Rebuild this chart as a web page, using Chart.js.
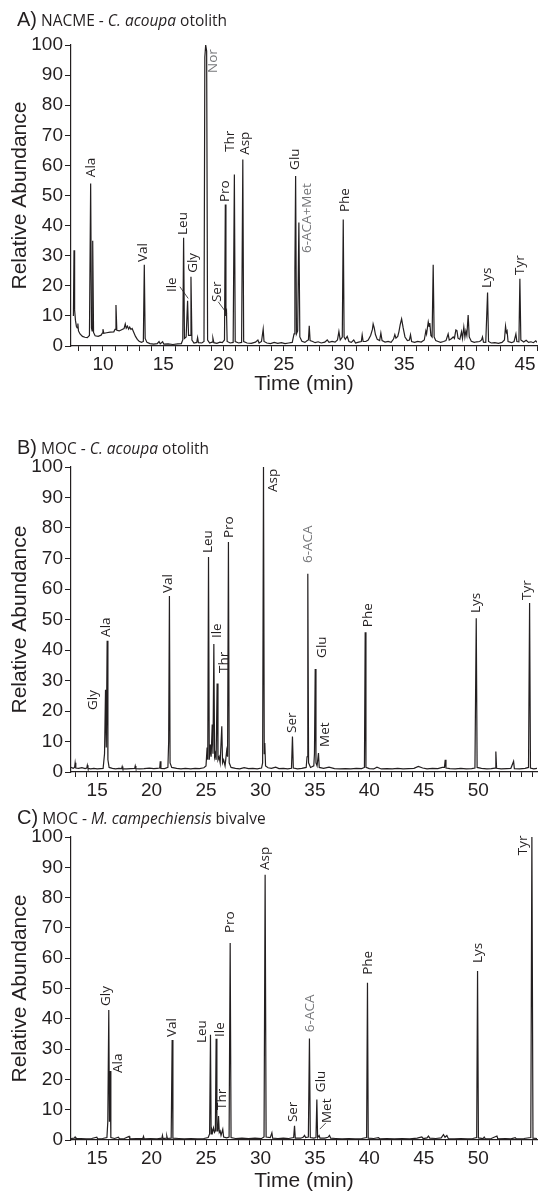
<!DOCTYPE html>
<html><head><meta charset="utf-8">
<script src="https://cdn.jsdelivr.net/npm/chart.js@4.4.1/dist/chart.umd.min.js"></script>
<style>
body{margin:0;background:#fff;width:539px;height:1194px;position:relative;overflow:hidden;}
canvas{position:absolute;left:0;}
.ttl{position:absolute;left:17px;font-family:'Open Sans';font-size:15.5px;color:#231f20;white-space:nowrap;line-height:24px;}
.ttl b{font-family:'Liberation Sans';font-weight:normal;font-size:20px;}
</style></head><body>
<canvas id="cA" width="539" height="400" style="top:0px"></canvas>
<canvas id="cB" width="539" height="400" style="top:405px"></canvas>
<canvas id="cC" width="539" height="389" style="top:805px"></canvas>
<div class="ttl" style="top:7px"><b>A)</b> NACME - <i>C. acoupa</i> otolith</div>
<div class="ttl" style="top:435px"><b>B)</b> MOC - <i>C. acoupa</i> otolith</div>
<div class="ttl" style="top:805px"><b>C)</b> MOC - <i>M. campechiensis</i> bivalve</div>
<script>
// ---------- DATA ----------
const traceA = [[7.55,10],[7.6,31.8],[7.65,12],[7.72,8.5],[7.8,6.5],[7.87,6],[7.92,7.5],[7.97,5],[8.1,4],[8.3,3.2],[8.5,2.9],[8.7,2.8],[8.88,3.5],[8.98,54],[9.05,6],[9.1,5],[9.15,35],[9.22,4.5],[9.35,3.4],[9.6,3.2],[9.85,3.6],[9.95,4.3],[10.0,5.6],[10.07,4.2],[10.3,4.4],[10.6,4.6],[10.9,4.7],[11.0,5.5],[11.08,13.6],[11.15,5.2],[11.35,5],[11.55,5.4],[11.75,5.8],[11.85,7.3],[11.93,5.9],[12.03,6.6],[12.13,5.6],[12.22,6.3],[12.32,5.5],[12.42,5.8],[12.55,4.6],[12.7,3.2],[12.85,2.2],[13.0,1.6],[13.2,1.2],[13.35,1.5],[13.43,27],[13.5,2.5],[13.65,1.2],[13.9,0.8],[14.2,0.6],[14.5,0.8],[14.65,1.5],[14.75,0.7],[14.95,1.4],[15.05,0.6],[15.4,0.7],[15.8,0.5],[16.2,0.7],[16.5,0.8],[16.62,2],[16.69,36],[16.76,2.5],[16.9,3],[17.02,15],[17.1,3.5],[17.22,3.5],[17.3,23],[17.38,2],[17.55,1],[17.78,1.2],[17.85,2.8],[17.92,1.1],[18.2,1],[18.38,1.5],[18.45,96],[18.52,100],[18.6,98],[18.68,2],[18.85,1],[19.05,1.3],[19.12,2.6],[19.2,1.1],[19.45,0.9],[19.7,1.3],[19.9,1.1],[20.08,2],[20.15,47],[20.2,10],[20.25,11],[20.3,1.5],[20.55,1],[20.8,1.2],[20.9,57],[20.97,1.5],[21.25,1],[21.5,1.2],[21.6,62],[21.67,1.5],[21.95,1],[22.3,0.9],[22.65,1.3],[22.85,2],[22.95,1],[23.15,1.5],[23.29,5.6],[23.36,1.5],[23.6,1],[23.9,0.8],[24.2,1.2],[24.5,0.9],[24.8,1.1],[25.1,0.8],[25.4,1],[25.7,1.2],[25.85,4],[25.92,25],[25.98,56.5],[26.05,4],[26.15,5],[26.25,41],[26.33,3],[26.5,1.6],[26.75,1.2],[26.95,1.8],[27.04,2],[27.11,6.7],[27.18,1.8],[27.4,1.5],[27.6,1.1],[27.85,1.4],[28.1,1],[28.4,1.3],[28.6,2],[28.75,1.2],[29.0,1.5],[29.25,1.3],[29.45,2],[29.57,4.8],[29.68,2],[29.85,3],[29.93,42],[30.0,3],[30.1,2.2],[30.26,3.2],[30.4,1.5],[30.6,1.2],[30.8,2],[30.95,1],[31.2,1.3],[31.43,1.5],[31.5,3.7],[31.58,1.5],[31.8,1.5],[32.0,2],[32.2,3.5],[32.35,5.5],[32.41,7.3],[32.5,6],[32.6,3.8],[32.75,2.2],[32.95,1.8],[33.05,4.3],[33.15,1.8],[33.4,1.3],[33.65,1.5],[33.9,1.2],[34.1,2.3],[34.21,3.8],[34.3,2.6],[34.45,3.2],[34.55,4.8],[34.65,7],[34.77,9],[34.9,6],[35.05,3],[35.25,1.8],[35.42,2],[35.51,3.7],[35.6,1.5],[35.85,1.2],[36.1,1.5],[36.4,1.3],[36.65,2],[36.78,5],[36.84,4],[36.98,8],[37.05,6.5],[37.11,7.6],[37.2,3.5],[37.3,3],[37.39,27],[37.47,3],[37.6,1.8],[37.8,1.5],[38.0,1.2],[38.25,1.5],[38.45,1.8],[38.63,4],[38.72,2],[38.9,2.4],[39.05,3],[39.15,2.5],[39.27,5.3],[39.36,5.1],[39.45,2.6],[39.6,2.2],[39.74,4.7],[39.82,2.5],[39.93,6.3],[40.02,3],[40.1,5],[40.18,3.5],[40.29,10.3],[40.38,3],[40.55,1.6],[40.8,1.2],[41.0,1.4],[41.25,1.5],[41.4,2],[41.48,3],[41.56,1.3],[41.75,1.2],[41.9,17.8],[41.98,1.5],[42.2,1],[42.5,1.1],[42.8,0.9],[43.1,1.2],[43.3,2],[43.39,6.6],[43.46,4.5],[43.52,5],[43.6,1.5],[43.9,1.1],[44.1,1.5],[44.25,4],[44.33,1.5],[44.5,1.4],[44.58,22.3],[44.66,2],[44.9,1.3],[45.1,1.9],[45.3,1.2],[45.5,1.4],[45.7,1.1],[45.9,1.7],[46.0,1.2]];

const traceB = [[12.6,1.5],[12.8,1.2],[12.93,1.5],[12.98,3],[13.04,1.3],[13.3,1.2],[13.6,1.4],[13.9,1.1],[14.05,1.3],[14.1,2.2],[14.16,1.2],[14.4,1.0],[14.7,1.2],[15.0,1.0],[15.3,1.1],[15.55,1.2],[15.68,6],[15.77,27],[15.84,8],[15.92,43],[15.99,4],[16.1,1.5],[16.4,1.2],[16.7,1],[17.0,1.2],[17.25,1.1],[17.3,1.8],[17.36,1],[17.7,1],[18.1,1.1],[18.45,1.2],[18.5,2],[18.56,1.1],[18.9,1],[19.3,1.1],[19.8,1.3],[20.2,1.1],[20.5,1.2],[20.75,1.3],[20.8,3.5],[20.86,1.2],[21.2,1.1],[21.5,1.5],[21.57,10],[21.64,57.7],[21.7,3],[21.85,1.5],[22.3,1.2],[22.7,1],[23.1,1.2],[23.6,1],[24.0,1.2],[24.4,1.1],[24.8,1.4],[25.0,2],[25.1,8],[25.16,4],[25.23,70.5],[25.3,4],[25.4,9],[25.47,5],[25.57,15.6],[25.64,6],[25.72,42],[25.79,5],[25.85,6],[25.93,4],[26.02,29],[26.1,4],[26.2,5],[26.3,3],[26.45,15],[26.52,3],[26.62,4],[26.75,2],[26.9,7],[26.98,5],[27.06,75.4],[27.13,3],[27.3,1.5],[27.7,1.2],[28.1,1],[28.5,1.4],[28.9,1.1],[29.3,1.2],[29.7,1],[30.1,1.3],[30.2,3],[30.28,100],[30.35,6],[30.4,9.5],[30.47,2],[30.7,1.4],[31.0,1.2],[31.4,1.6],[31.7,1.1],[32.1,1.2],[32.5,1],[32.85,1.2],[32.94,11.6],[33.02,1.3],[33.4,1],[33.8,1.2],[34.2,1.5],[34.28,5],[34.35,65],[34.42,3],[34.6,1.5],[34.9,2],[34.96,6],[35.03,33.8],[35.1,3],[35.2,2],[35.33,6.2],[35.4,1.5],[35.8,1.2],[36.3,1.6],[36.8,1.1],[37.3,1],[37.8,1.1],[38.3,1],[38.8,1.2],[39.3,1.1],[39.55,1.5],[39.62,45.8],[39.69,1.5],[40.0,1.1],[40.4,1],[40.7,1.6],[41.1,1],[41.6,1.1],[42.1,1],[42.6,1.2],[43.1,1],[43.6,1.1],[44.1,1.2],[44.5,1.8],[44.9,1.3],[45.3,1],[45.8,1.2],[46.3,1.1],[46.7,1.5],[46.9,1.5],[46.97,4],[47.04,1.3],[47.4,1.1],[47.9,1],[48.4,1.2],[48.9,1],[49.4,1.1],[49.7,1.3],[49.82,50.4],[49.9,1.5],[50.3,1.2],[50.8,1],[51.2,1.1],[51.55,1.3],[51.62,6.7],[51.69,1.2],[52.1,1],[52.6,1.1],[53.0,1.2],[53.25,3.5],[53.32,1.1],[53.8,1],[54.3,1.2],[54.62,1.5],[54.72,55.4],[54.8,1.3],[55.1,1],[55.4,1.2]];

const traceC = [[12.6,0.5],[12.9,0.6],[12.98,1],[13.05,0.5],[13.5,0.5],[14.0,0.4],[14.5,0.5],[14.97,0.9],[15.05,0.4],[15.5,0.5],[15.9,0.8],[15.98,6],[16.07,42.9],[16.13,6],[16.19,22.8],[16.26,0.8],[16.6,0.5],[16.96,0.9],[17.05,0.4],[17.5,0.5],[17.94,1.2],[18.0,0.4],[18.6,0.5],[19.2,0.5],[19.26,1.2],[19.32,0.4],[19.9,0.5],[20.5,0.4],[20.95,0.6],[21.0,1.5],[21.05,0.5],[21.35,0.6],[21.4,1.3],[21.45,0.5],[21.8,0.6],[21.89,33],[21.96,0.6],[22.5,0.5],[23.0,0.4],[23.6,0.5],[24.2,0.4],[24.8,0.5],[25.2,0.8],[25.33,2],[25.41,34.7],[25.47,2],[25.53,3.5],[25.6,2.5],[25.69,4],[25.78,2.5],[25.86,3],[25.93,33.4],[26.0,3],[26.08,3],[26.15,7.9],[26.22,2.5],[26.3,3],[26.38,1.5],[26.54,3.5],[26.62,1],[26.9,0.7],[27.12,1],[27.22,65],[27.3,0.8],[27.7,0.5],[28.3,0.6],[28.9,0.5],[29.5,0.6],[30.1,0.5],[30.33,1],[30.43,87.5],[30.52,1],[30.9,0.8],[31.05,2.4],[31.12,0.6],[31.6,0.5],[32.1,0.6],[32.6,0.5],[33.05,0.8],[33.13,4.7],[33.2,0.6],[33.7,0.6],[33.95,1],[34.05,1.5],[34.15,0.8],[34.4,1],[34.5,33.5],[34.58,0.8],[34.9,0.6],[35.1,0.8],[35.18,13.4],[35.25,0.8],[35.39,1.5],[35.47,0.6],[35.9,0.6],[36.2,0.9],[36.34,1.5],[36.45,0.6],[36.9,0.5],[37.5,0.4],[38.1,0.5],[38.7,0.4],[39.3,0.5],[39.75,0.8],[39.83,51.9],[39.9,0.6],[40.4,0.5],[40.84,0.8],[40.95,0.4],[41.6,0.5],[42.3,0.4],[43.0,0.5],[43.7,0.4],[44.4,0.6],[44.82,1],[44.95,0.5],[45.3,0.7],[45.43,1.3],[45.55,0.6],[46.1,0.5],[46.6,0.7],[46.81,1.8],[46.95,0.9],[47.12,1.5],[47.25,0.5],[47.8,0.4],[48.4,0.5],[49.0,0.4],[49.5,0.5],[49.86,0.8],[49.94,55.8],[50.02,0.7],[50.45,0.5],[50.55,1],[50.65,0.4],[51.2,0.5],[51.72,1.3],[51.8,0.4],[52.5,0.5],[53.0,0.4],[53.4,0.8],[53.5,0.4],[54.2,0.5],[54.83,0.8],[54.93,100],[55.03,0.6],[55.4,0.5]];

// peak labels: name, time (min) and abundance where the label starts
const labelNamesA = ['Ala','Val','Ile','Leu','Gly','Nor','Ser','Pro','Thr','Asp','Glu','6-ACA+Met','Phe','Lys','Tyr'];
const labelTimesA = [9.0,13.32,15.72,16.63,17.46,19.12,19.45,20.12,20.53,21.77,25.92,26.92,30.07,41.9,44.58];
const labelValsA  = [56.1,27.9,17.9,36.9,24.3,90.7,14.6,47.8,64.5,63.5,58.5,30.9,44.5,19.3,23.6];
const leadersA = [[16.38,19.7,17.07,15.8],[19.56,14.7,20.26,10.9]];

const labelNamesB = ['Gly','Ala','Val','Leu','Ile','Thr','Pro','Asp','Ser','6-ACA','Glu','Met','Phe','Lys','Tyr'];
const labelTimesB = [14.63,15.83,21.52,25.2,26.02,26.67,27.13,31.17,32.91,34.38,35.67,35.94,39.89,49.82,54.5];
const labelValsB  = [20.3,44.3,58.7,71.8,43.9,32.5,76.7,91.8,12.8,68.5,37.4,8.2,47.5,52.1,56.4];
const leadersB = [];

const labelNamesC = ['Gly','Ala','Val','Leu','Ile','Thr','Pro','Asp','Ser','6-ACA','Glu','Met','Phe','Lys','Tyr'];
const labelTimesC = [15.83,16.93,21.89,24.65,26.3,26.48,27.22,30.43,33.0,34.57,35.58,36.13,39.89,50.0,54.13];
const labelValsC  = [44.2,22.1,34,32,34,9.9,68.3,89.1,5.9,35.6,15.8,5.6,54.5,58.4,94];
const leadersC = [[36.0,5.6,35.45,3.6]];

const yTicks = [0,10,20,30,40,50,60,70,80,90,100];
const xLabelsA = [10,15,20,25,30,35,40,45];
const xLabelsBC = [15,20,25,30,35,40,45,50];

// ---------- STYLE ----------
const INK = '#231f20';
const GREY = '#77787b';
const greyLabels = ['Nor','6-ACA+Met','6-ACA'];

const peakLabelPlugin = {
  id: 'peakLabels',
  afterDatasetsDraw(chart, args, opts) {
    const ctx = chart.ctx, xs = chart.scales.x, ys = chart.scales.y;
    ctx.save();
    ctx.font = '13.5px "Open Sans"';
    ctx.textAlign = 'left';
    ctx.textBaseline = 'middle';
    opts.names.forEach((n, i) => {
      const px = xs.getPixelForValue(opts.times[i]);
      const py = ys.getPixelForValue(opts.vals[i]);
      ctx.save();
      ctx.translate(px, py);
      ctx.rotate(-Math.PI / 2);
      ctx.fillStyle = greyLabels.includes(n) ? GREY : INK;
      ctx.fillText(n, 0, 0);
      ctx.restore();
    });
    ctx.strokeStyle = INK;
    ctx.lineWidth = 0.8;
    opts.leaders.forEach(l => {
      ctx.beginPath();
      ctx.moveTo(xs.getPixelForValue(l[0]), ys.getPixelForValue(l[1]));
      ctx.lineTo(xs.getPixelForValue(l[2]), ys.getPixelForValue(l[3]));
      ctx.stroke();
    });
    ctx.restore();
  }
};

function makeChart(id, trace, xmin, xmax, xLabels, names, times, vals, leaders, padTop, xAxisH, showXTitle, xTitlePad) {
  const axisFont = {family: '"Liberation Sans", Arial, sans-serif', size: 19};
  const titleFont = {family: '"Liberation Sans", Arial, sans-serif', size: 21};
  return new Chart(document.getElementById(id), {
    type: 'line',
    data: {datasets: [{
      data: trace.map(p => ({x: p[0], y: p[1]})),
      borderColor: INK, borderWidth: 1.2, pointRadius: 0, tension: 0, fill: false
    }]},
    options: {
      responsive: false, animation: false, devicePixelRatio: 1,
      layout: {padding: {top: padTop, right: 2, left: 0, bottom: 0}},
      plugins: {legend: {display: false}, tooltip: {enabled: false},
        peakLabels: {names, times, vals, leaders}},
      scales: {
        x: {type: 'linear', min: xmin, max: xmax,
          afterFit: s => { s.height = xAxisH; },
          ticks: {stepSize: 1, autoSkip: false, includeBounds: false, maxRotation: 0, maxTicksLimit: 200,
            callback: v => (xLabels.includes(Math.round(v)) ? String(Math.round(v)) : ''),
            font: axisFont, color: INK, padding: 2},
          grid: {drawOnChartArea: false, drawTicks: true, tickLength: 5, color: INK, lineWidth: 1},
          border: {display: true, color: INK, width: 1.2},
          title: {display: showXTitle, text: 'Time (min)', font: titleFont, color: INK,
            padding: {top: 0, bottom: xTitlePad}}
        },
        y: {type: 'linear', min: 0, max: 100,
          afterFit: s => { s.width = 71; },
          afterBuildTicks: s => { s.ticks = yTicks.map(v => ({value: v})); },
          ticks: {font: axisFont, color: INK, padding: 2},
          grid: {drawOnChartArea: false, drawTicks: true, tickLength: 6, color: INK, lineWidth: 1},
          border: {display: true, color: INK, width: 1.2},
          title: {display: true, text: 'Relative Abundance', font: titleFont, color: INK,
            padding: {top: 8, bottom: 0}}
        }
      }
    },
    plugins: [peakLabelPlugin]
  });
}

makeChart('cA', traceA, 7.35, 46.0, xLabelsA, labelNamesA, labelTimesA, labelValsA, leadersA, 45, 54, true, 3.4);
makeChart('cB', traceB, 12.6, 55.4, xLabelsBC, labelNamesB, labelTimesB, labelValsB, leadersB, 62, 33, false, 0);
makeChart('cC', traceC, 12.6, 55.4, xLabelsBC, labelNamesC, labelTimesC, labelValsC, leadersC, 32, 54, true, 0);
</script>
</body></html>
